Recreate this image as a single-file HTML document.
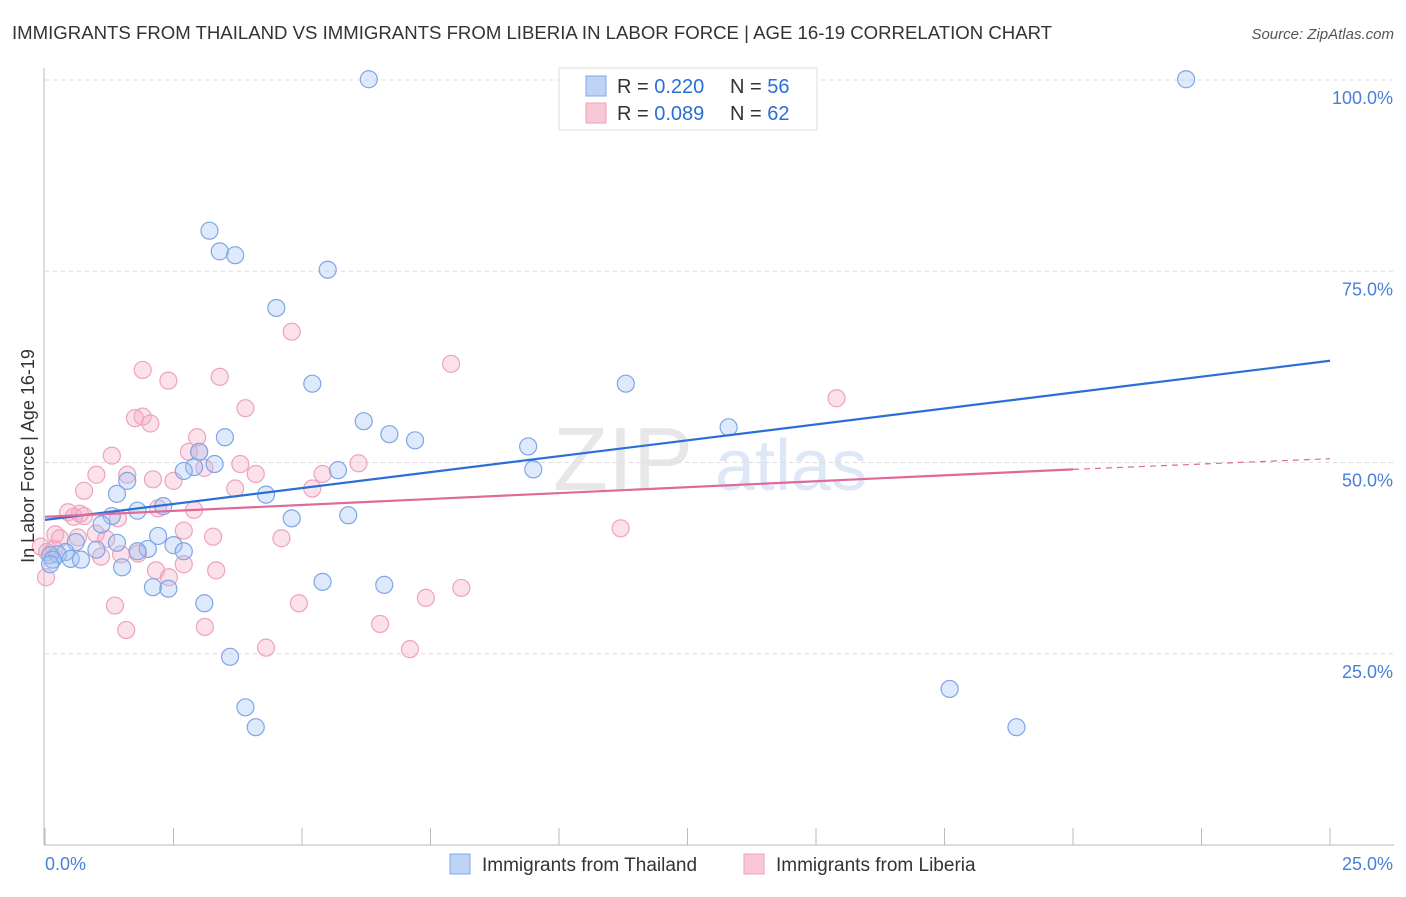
<!DOCTYPE html>
<html><head><meta charset="utf-8"><style>
body{margin:0;background:#fff;font-family:"Liberation Sans",sans-serif}
svg text{font-family:"Liberation Sans",sans-serif}
</style></head><body>
<svg id="c" width="1406" height="892" viewBox="0 0 1406 892" xmlns="http://www.w3.org/2000/svg">
<text x="12" y="39" font-size="18.6" fill="#333">IMMIGRANTS FROM THAILAND VS IMMIGRANTS FROM LIBERIA IN LABOR FORCE | AGE 16-19 CORRELATION CHART</text>
<text x="1394" y="39" font-size="15" fill="#555" font-style="italic" text-anchor="end">Source: ZipAtlas.com</text>
<g><text x="553" y="490" font-size="90" fill="#ddd" font-family="Liberation Serif" opacity="0.7">ZIP</text><text x="715" y="490" font-size="72" fill="#c8d8f0" opacity="0.6">atlas</text></g>
<g id="grid"></g><g id="axes"></g><g id="marks"></g>
<text transform="translate(34,456) rotate(-90)" font-size="18" fill="#333" text-anchor="middle">In Labor Force | Age 16-19</text>
<g>
<rect x="559" y="68" width="258" height="62" fill="#fff" stroke="#ddd"/>
<rect x="586" y="76" width="20" height="20" fill="#bcd3f5" stroke="#7fa8e8"/>
<text x="617" y="93" font-size="20" fill="#333">R = <tspan fill="#2a6fd6">0.220</tspan></text>
<text x="730" y="93" font-size="20" fill="#333">N = <tspan fill="#2a6fd6">56</tspan></text>
<rect x="586" y="103" width="20" height="20" fill="#f8c8d6" stroke="#f0a0b8"/>
<text x="617" y="120" font-size="20" fill="#333">R = <tspan fill="#2a6fd6">0.089</tspan></text>
<text x="730" y="120" font-size="20" fill="#333">N = <tspan fill="#2a6fd6">62</tspan></text>
</g>
<g>
<rect x="450" y="854" width="20" height="20" fill="#bcd3f5" stroke="#7fa8e8"/>
<text x="482" y="871" font-size="19" fill="#333">Immigrants from Thailand</text>
<rect x="744" y="854" width="20" height="20" fill="#f8c8d6" stroke="#f0a0b8"/>
<text x="776" y="871" font-size="19" fill="#333">Immigrants from Liberia</text>
</g>
</svg>
<script>
const yTicks=[25,50,75,100];
const yTickLabels=["25.0%","50.0%","75.0%","100.0%"];
const xTickLabels=["0.0%","25.0%"];
const thaiX=[6.3,22.2,3.2,3.4,3.7,5.5,4.5,5.2,11.3,6.2,6.7,7.2,13.3,9.4,3.5,3.0,3.3,2.9,2.7,5.7,9.5,1.6,1.4,4.3,2.3,1.8,1.3,4.8,5.9,1.1,2.2,0.6,1.4,2.5,2.0,1.8,2.7,1.0,0.4,0.25,0.1,0.15,0.5,0.7,1.5,5.4,6.6,2.1,2.4,3.1,3.6,17.6,3.9,4.1,18.9,0.1];
const thaiY=[100.1,100.1,80.3,77.6,77.1,75.2,70.2,60.3,60.3,55.4,53.7,52.9,54.6,52.1,53.3,51.4,49.8,49.4,48.9,49.0,49.1,47.6,45.9,45.8,44.3,43.7,43.0,42.7,43.1,41.9,40.4,39.6,39.5,39.2,38.7,38.4,38.4,38.6,38.3,38.0,37.9,37.3,37.4,37.3,36.3,34.4,34.0,33.7,33.5,31.6,24.6,20.4,18.0,15.4,15.4,36.7];
const libX=[7.9,4.8,1.9,2.4,3.4,3.9,15.4,1.75,1.9,2.05,1.3,3.0,2.96,2.8,3.1,3.8,4.1,6.1,5.4,2.1,1.6,1.0,0.76,3.7,2.5,5.2,2.2,2.9,0.45,0.68,0.56,0.76,1.42,0.99,1.19,2.7,3.27,0.2,0.29,4.6,11.2,-0.08,0.18,0.04,1.81,1.09,1.48,2.7,2.16,3.33,2.41,7.41,8.1,1.36,4.94,3.11,6.52,1.58,4.3,7.1,0.02,0.64];
const libY=[62.9,67.1,62.1,60.7,61.2,57.1,58.4,55.8,56.0,55.1,50.9,51.4,53.3,51.4,49.3,49.8,48.5,49.9,48.5,47.8,48.4,48.4,46.3,46.6,47.6,46.6,44.0,43.8,43.5,43.3,42.9,43.0,42.7,40.7,40.0,41.1,40.3,40.6,40.1,40.1,41.4,39.0,38.7,38.3,38.1,37.7,38.0,36.7,35.9,35.9,35.0,32.3,33.6,31.3,31.6,28.5,28.9,28.1,25.8,25.6,35.0,40.2];
const thaiTrend=[42.5,63.3], libTrendSolid=[42.9,49.1], libTrendEnd=50.5;
const X0=45,X1=1330,Y0=845,YT=80;
const sx=v=>X0+(v/25)*(X1-X0);
const sy=v=>Y0-(v/100)*(Y0-YT);
const NS="http://www.w3.org/2000/svg";
function mk(t,a,p){const e=document.createElementNS(NS,t);for(const k in a)e.setAttribute(k,a[k]);p.appendChild(e);return e;}
const grid=document.getElementById('grid'),axes=document.getElementById('axes'),marks=document.getElementById('marks');
yTicks.forEach((t,i)=>{
 const l=mk('line',{x1:X0,x2:1394,y1:sy(t),y2:sy(t),stroke:'#ddd','stroke-dasharray':'4,4'},grid);
 
 
 const tx=mk('text',{x:1393,y:sy(t)+24,'font-size':18,fill:'#4a7fd6','text-anchor':'end'},axes);
 tx.textContent=yTickLabels[i];
 
 
});
const ya=mk('line',{x1:X0-1,x2:X0-1,y1:68,y2:Y0,stroke:'#bbb'},axes);


const xa=mk('line',{x1:X0-1,x2:1394,y1:Y0,y2:Y0,stroke:'#bbb'},axes);


for(let i=0;i<=10;i++){const x=sx(i*2.5);const t=mk('line',{x1:x,x2:x,y1:828,y2:Y0,stroke:'#bbb'},axes);
 
 }
[[0,45,'start'],[25,1393,'end']].forEach((d,i)=>{const t=mk('text',{x:d[1],y:870,'font-size':18,fill:'#4a7fd6','text-anchor':d[2]},axes);t.textContent=xTickLabels[i];
 
 });
function pts(xs,ys,fill,stroke,name){xs.forEach((x,i)=>{const c=mk('circle',{cx:sx(x),cy:sy(ys[i]),r:8.5,fill:fill,stroke:stroke,'stroke-width':1.2},marks);
 
 });}
pts(libX,libY,'rgba(244,170,195,0.35)','#eea3bb','point-liberia');
pts(thaiX,thaiY,'rgba(160,192,244,0.35)','#7ea6e6','point-thailand');
const bl=mk('line',{x1:sx(0),y1:sy(thaiTrend[0]),x2:sx(25),y2:sy(thaiTrend[1]),stroke:'#2a6fd6','stroke-width':2.2},marks);


const pl=mk('line',{x1:sx(0),y1:sy(libTrendSolid[0]),x2:sx(20),y2:sy(libTrendSolid[1]),stroke:'#e0689a','stroke-width':2.2},marks);


const pd=mk('line',{x1:sx(20),y1:sy(libTrendSolid[1]),x2:sx(25),y2:sy(libTrendEnd),stroke:'#e0689a','stroke-width':1.2,'stroke-dasharray':'6,5'},marks);


</script>
</body></html>
